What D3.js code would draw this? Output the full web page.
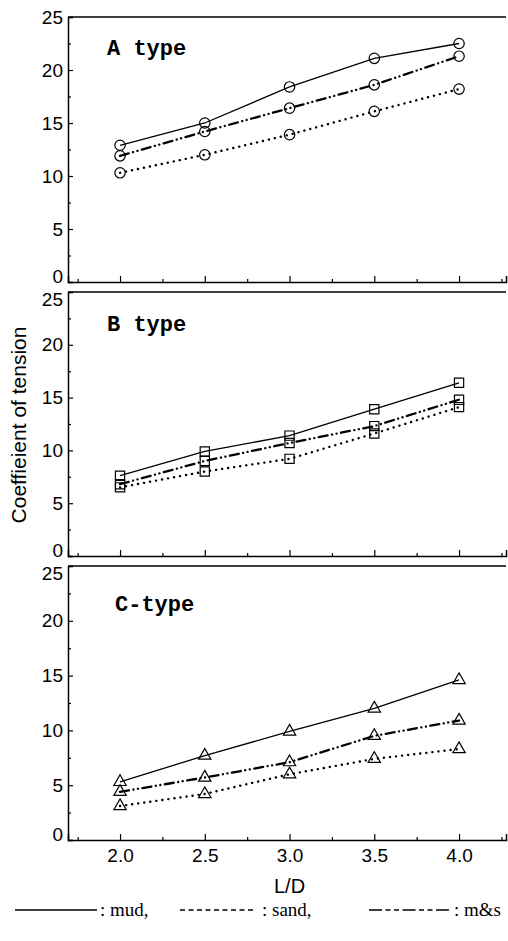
<!DOCTYPE html>
<html>
<head>
<meta charset="utf-8">
<script src="https://cdn.jsdelivr.net/npm/d3@7"></script>
<style>
  body { margin: 0; background: #fff; }
  svg { display: block; }
</style>
</head>
<body>
<svg id="chart"></svg>
<script>
// data
const ld = [2.0, 2.5, 3.0, 3.5, 4.0];

const aMud  = [12.9, 15.0, 18.4, 21.1, 22.5];
const aSand = [10.3, 12.0, 13.9, 16.1, 18.2];
const aMs   = [11.9, 14.2, 16.4, 18.6, 21.3];

const bMud  = [7.6, 9.9, 11.4, 13.9, 16.4];
const bSand = [6.5, 8.0, 9.2, 11.6, 14.1];
const bMs   = [6.8, 9.0, 10.7, 12.3, 14.8];

const cMud  = [5.3, 7.7, 9.9, 12.0, 14.6];
const cSand = [3.1, 4.2, 6.0, 7.4, 8.3];
const cMs   = [4.4, 5.7, 7.1, 9.5, 10.9];

const panelTitles = ["A type", "B type", "C-type"];
const yTicks = [0, 5, 10, 15, 20, 25];
const yMinor = [2.5, 7.5, 12.5, 17.5, 22.5];
const xTicks = [2.0, 2.5, 3.0, 3.5, 4.0];
const xMinor = [1.75, 2.25, 2.75, 3.25, 3.75, 4.25];
const legendNames = ["mud", "sand", "m&s"];

const width = 508, height = 941;
const svg = d3.select("#chart").attr("width", width).attr("height", height);

const x = d3.scaleLinear().domain([1.693, 4.277]).range([68, 506]);

const styles = {
  mud:  { dash: null, w: 1.3, cap: "butt" },
  sand: { dash: "0.1,6", w: 2.4, cap: "round" },
  ms:   { dash: "9,4.5,0.1,4.5,0.1,4.5", w: 2.3, cap: "round" }
};

const panels = [
  { top: 17,  bottom: 282, title: panelTitles[0], tx: 107, ty: 55,  shape: d3.symbolCircle,   size: 85,
    series: [["mud", aMud], ["sand", aSand], ["ms", aMs]] },
  { top: 292, bottom: 556, title: panelTitles[1], tx: 107, ty: 331, shape: d3.symbolSquare,   size: 85,
    series: [["mud", bMud], ["sand", bSand], ["ms", bMs]] },
  { top: 566, bottom: 840, title: panelTitles[2], tx: 115, ty: 611, shape: d3.symbolTriangle, size: 66,
    series: [["mud", cMud], ["sand", cSand], ["ms", cMs]] }
];

panels.forEach((p, i) => {
  const y = d3.scaleLinear().domain([0, 25]).range([p.bottom, p.top]);
  const g = svg.append("g");

  // top border
  g.append("line")
    .attr("x1", x.range()[0]).attr("x2", x.range()[1])
    .attr("y1", y(25)).attr("y2", y(25))
    .attr("stroke", "#000").attr("stroke-width", 1.5);

  // y axis
  const yAxis = g.append("g")
    .attr("transform", `translate(${x.range()[0]},0)`)
    .call(d3.axisLeft(y).tickValues(yTicks).tickSize(-5).tickPadding(5).tickFormat(d3.format("d")));
  yAxis.append("g").call(d3.axisLeft(y).tickValues(yMinor).tickSize(-3).tickFormat(""))
    .select(".domain").remove();

  // x axis
  const xAxis = g.append("g")
    .attr("transform", `translate(0,${p.bottom})`)
    .call(d3.axisBottom(x).tickValues(xTicks).tickSize(-6).tickPadding(9)
      .tickFormat(i === 2 ? d3.format(".1f") : ""));
  xAxis.append("g").call(d3.axisBottom(x).tickValues(xMinor).tickSize(-3).tickFormat(""))
    .select(".domain").remove();

  [yAxis, xAxis].forEach(ax => {
    ax.selectAll(".domain").attr("stroke-width", 1.5);
    ax.selectAll("line").attr("stroke-width", 1.2);
    ax.selectAll("text").attr("font-family", "Liberation Sans, Arial, sans-serif")
      .attr("font-size", 19).attr("fill", "#000");
  });

  // keep the 0 of one panel clear of the 25 of the next
  yAxis.selectAll(".tick text")
    .attr("dy", d => d === 0 ? "0em" : (d === 25 && i > 0 ? "0.7em" : "0.32em"));

  g.append("text")
    .attr("x", p.tx).attr("y", p.ty)
    .attr("font-family", "Liberation Mono, monospace")
    .attr("font-weight", "bold").attr("font-size", 22)
    .text(p.title);

  const line = d3.line().x((d, j) => x(ld[j])).y(d => y(d));
  const sym = d3.symbol(p.shape, p.size);

  p.series.forEach(([key, vals]) => {
    const s = styles[key];
    g.append("path")
      .attr("d", line(vals))
      .attr("fill", "none").attr("stroke", "#000")
      .attr("stroke-width", s.w)
      .attr("stroke-dasharray", s.dash)
      .attr("stroke-linecap", s.cap);

    g.selectAll(null).data(vals).join("path")
      .attr("transform", (d, j) => `translate(${x(ld[j])},${y(d)})`)
      .attr("d", sym)
      .attr("fill", "none").attr("stroke", "#000").attr("stroke-width", 1.2);
  });
});

// axis titles
svg.append("text")
  .attr("transform", "translate(26,425) rotate(-90)")
  .attr("text-anchor", "middle")
  .attr("font-family", "Liberation Sans, Arial, sans-serif").attr("font-size", 21)
  .text("Coeffieient of tension");

svg.append("text")
  .attr("x", x(3.0)).attr("y", 893)
  .attr("text-anchor", "middle")
  .attr("font-family", "Liberation Sans, Arial, sans-serif").attr("font-size", 20)
  .text("L/D");

// legend
const legendY = 915;
const legendItems = [
  { x1: 15,  x2: 97,  tx: 100, dash: null,                 w: 1.4 },
  { x1: 180, x2: 256, tx: 262, dash: "5,3.5",              w: 1.4 },
  { x1: 369, x2: 451, tx: 454, dash: "13,3.5,5,3.5,5,3.5", w: 1.6 }
];
const legend = svg.append("g");
legendItems.forEach((d, i) => {
  legend.append("line")
    .attr("x1", d.x1).attr("x2", d.x2).attr("y1", legendY - 5).attr("y2", legendY - 5)
    .attr("stroke", "#000").attr("stroke-width", d.w)
    .attr("stroke-dasharray", d.dash);
  legend.append("text")
    .attr("x", d.tx).attr("y", legendY + 1)
    .attr("font-family", "Liberation Serif, Times New Roman, serif").attr("font-size", 19)
    .text(": " + legendNames[i] + (i < 2 ? "," : ""));
});
</script>
</body>
</html>
